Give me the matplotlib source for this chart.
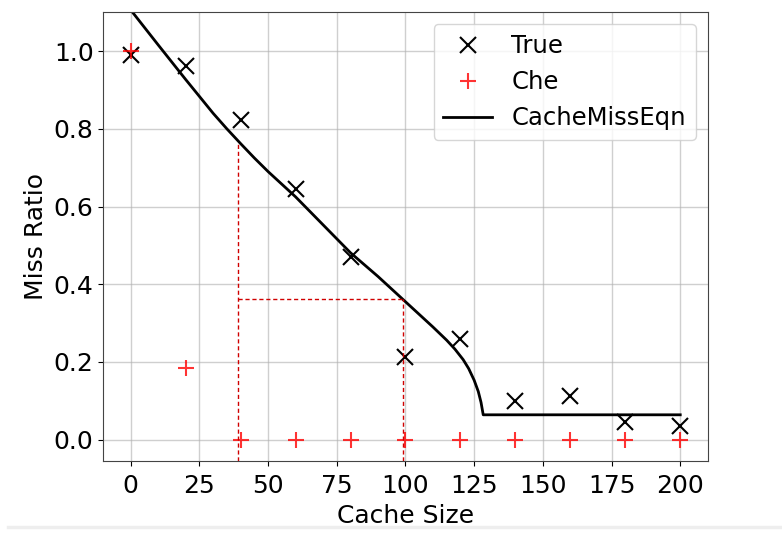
import numpy as np
import matplotlib.pyplot as plt
from matplotlib.lines import Line2D

cache_size = [0, 20, 40, 60, 80, 100, 120, 140, 160, 180, 200]
true_miss = [0.99, 0.962, 0.822, 0.645, 0.47, 0.212, 0.258, 0.10, 0.112, 0.045, 0.035]
che_miss = [1.0, 0.185, 0, 0, 0, 0, 0, 0, 0, 0, 0]

eqn_x = [0, 10, 20, 30, 35, 40, 45, 50, 60, 70, 80, 90, 100, 110, 115, 118, 121, 123,
         125, 126.5, 127.5, 128.3, 200]
eqn_y = [1.106, 1.016, 0.927, 0.84, 0.8, 0.762, 0.725, 0.69, 0.625, 0.553, 0.481,
         0.42, 0.355, 0.29, 0.256, 0.233, 0.206, 0.183, 0.153, 0.124, 0.096, 0.064, 0.064]

# dashed guide lines
guide_x1, guide_x2, guide_y = 39, 99, 0.361
guide_top = 0.762

plt.rcParams['font.family'] = ['DejaVu Sans']
plt.rcParams['font.size'] = 18

fig = plt.figure(figsize=(7.82, 5.33), dpi=100)
ax = fig.add_axes([0.132, 0.135, 0.773, 0.842])

ax.grid(True, color='#b0b0b0', alpha=0.6, linewidth=1)
ax.set_axisbelow(True)

ax.plot(cache_size, true_miss, 'x', color='black', markersize=11, markeredgewidth=1.5, label='True')
ax.plot(cache_size, che_miss, '+', color='red', alpha=0.8, markersize=11, markeredgewidth=1.5, label='Che')
ax.plot(eqn_x, eqn_y, '-', color='black', linewidth=2, label='CacheMissEqn')

ybot = -0.055
ax.plot([guide_x1, guide_x1], [ybot, guide_top], '--', color='#d00000', linewidth=1, dashes=(3, 2))
ax.plot([guide_x1, guide_x2], [guide_y, guide_y], '--', color='#d00000', linewidth=1, dashes=(3, 2))
ax.plot([guide_x2, guide_x2], [ybot, guide_y], '--', color='#d00000', linewidth=1, dashes=(3, 2))

ax.set_xlim(-10, 210)
ax.set_ylim(ybot, 1.1)
ax.set_xticks(np.arange(0, 201, 25))
ax.set_yticks(np.arange(0, 1.01, 0.2))
ax.tick_params(axis='x', pad=6)
ax.set_xlabel('Cache Size', labelpad=4)
ax.set_ylabel('Miss Ratio')
for s in ax.spines.values():
    s.set_color('#444444')

ax.legend(loc='upper right', fontsize=17.5)

fig.add_artist(Line2D([0.01, 1.0], [0.012, 0.012], color='#eeeeee', linewidth=2.5))

fig.savefig('out.png', dpi=100)
